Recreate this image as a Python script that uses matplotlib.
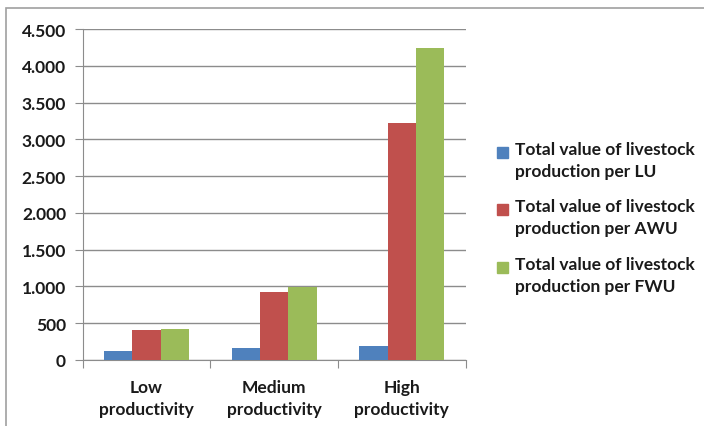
import matplotlib
matplotlib.use("Agg")
import matplotlib.pyplot as plt
import numpy as np
from matplotlib.patches import Rectangle
from matplotlib.ticker import FuncFormatter, MultipleLocator

categories = ["Low\nproductivity", "Medium\nproductivity", "High\nproductivity"]
series_names = [
    "Total value of livestock\nproduction per LU",
    "Total value of livestock\nproduction per AWU",
    "Total value of livestock\nproduction per FWU",
]
per_lu = [118, 163, 195]
per_awu = [408, 920, 3218]
per_fwu = [426, 988, 4237]
colors = ["#4F81BD", "#C0504D", "#9BBB59"]

plt.rcParams['font.family'] = ['Lato', 'DejaVu Sans']

fig = plt.figure(figsize=(7.04, 4.27), dpi=100)
ax = fig.add_axes([0.1175, 0.1546, 0.544, 0.775])

x = np.arange(len(categories))
width = 1 / 4.5
for i, (vals, c) in enumerate(zip([per_lu, per_awu, per_fwu], colors)):
    ax.bar(x + (i - 1) * width, vals, width, color=c, zorder=3)

ax.set_xlim(-0.5, 2.5)
ax.set_ylim(0, 4500)
ax.yaxis.set_major_locator(MultipleLocator(500))
ax.yaxis.set_major_formatter(FuncFormatter(lambda v, p: f"{v:,.0f}".replace(",", ".")))
ax.grid(axis='y', color='#8c8c8c', lw=1, zorder=0)

ax.set_xticks([-0.5, 0.5, 1.5, 2.5])
ax.set_xticklabels([])
ax.set_xticks(x, minor=True)
ax.set_xticklabels(categories, minor=True, fontsize=12.5, fontweight='bold',
                   color='#1a1a1a', linespacing=1.45)
ax.tick_params(axis='x', which='minor', length=0, pad=14)
ax.tick_params(axis='x', which='major', length=6, color='#8c8c8c', direction='out')
ax.tick_params(axis='y', length=6, color='#8c8c8c', labelsize=12.5, pad=6,
               labelcolor='#1a1a1a')
for lab in ax.get_yticklabels():
    lab.set_fontweight('bold')

for side in ['top', 'right']:
    ax.spines[side].set_visible(False)
for side in ['left', 'bottom']:
    ax.spines[side].set_color('#8c8c8c')

# legend, drawn by hand so the swatch sits on the first text line
leg_y = [153, 210, 268]
for name, c, yy in zip(series_names, colors, leg_y):
    fig.patches.append(Rectangle((497 / 704, 1 - (yy + 5.5) / 427), 11 / 704, 11 / 427,
                                 transform=fig.transFigure, color=c))
    fig.text(515 / 704, 1 - (yy - 11) / 427, name, fontsize=12.5, fontweight='bold',
             color='#1a1a1a', va='top', ha='left', linespacing=1.45)

# chart border
fig.patches.append(Rectangle((6 / 704, -0.1), 1.1, 1 - 8.5 / 427 + 0.1,
                             transform=fig.transFigure, fill=False,
                             edgecolor='#a0a0a0', lw=1.2))

fig.savefig("out.png", dpi=100)
